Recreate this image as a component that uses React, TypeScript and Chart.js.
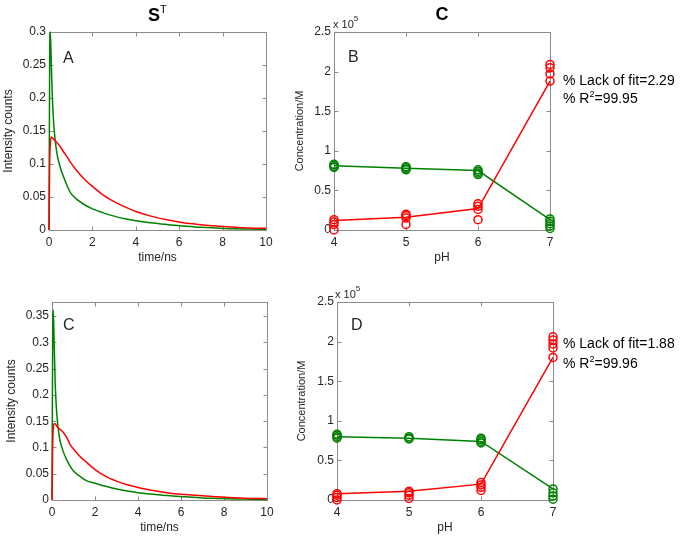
import React, { useEffect, useRef } from 'react';
import { Chart, registerables } from 'chart.js';

Chart.register(...registerables);

// ---------- data ----------
const timeNs = [0, 0.03, 0.06, 0.1, 0.15, 0.23, 0.35, 0.5, 0.7, 0.85, 1.0, 1.3, 1.6, 2.0, 2.5, 3.0, 3.5, 4.0, 4.7, 5.5, 6.2, 7.0, 7.7, 8.5, 9.3, 10];

const greenA = [0, 0.25, 0.3, 0.26, 0.205, 0.155, 0.119, 0.097, 0.078, 0.066, 0.056, 0.046, 0.039, 0.032, 0.026, 0.021, 0.017, 0.014, 0.011, 0.008, 0.006, 0.004, 0.003, 0.002, 0.0015, 0.001];
const redA = [0, 0.1, 0.13, 0.141, 0.14, 0.137, 0.133, 0.127, 0.117, 0.11, 0.102, 0.089, 0.078, 0.066, 0.053, 0.043, 0.035, 0.028, 0.021, 0.015, 0.011, 0.008, 0.006, 0.0045, 0.003, 0.0025];

const greenC = [0, 0.3, 0.362, 0.3, 0.22, 0.16, 0.118, 0.095, 0.075, 0.064, 0.055, 0.045, 0.037, 0.032, 0.026, 0.021, 0.017, 0.014, 0.011, 0.008, 0.006, 0.004, 0.003, 0.002, 0.0015, 0.001];
const redC = [0, 0.1, 0.135, 0.145, 0.145, 0.14, 0.135, 0.13, 0.118, 0.105, 0.097, 0.083, 0.072, 0.058, 0.045, 0.036, 0.029, 0.024, 0.018, 0.013, 0.0105, 0.008, 0.006, 0.0045, 0.003, 0.0025];

const pHValues = [4, 5, 6, 7];

const greenFitB = [0.81, 0.78, 0.75, 0.13];
const redFitB = [0.12, 0.16, 0.27, 1.88];
const greenRepB = [[0.79, 0.8, 0.82, 0.83], [0.76, 0.77, 0.79, 0.8], [0.7, 0.72, 0.74, 0.76], [0.02, 0.05, 0.08, 0.11, 0.14]];
const redRepB = [[0.0, 0.07, 0.1, 0.13], [0.07, 0.15, 0.18, 0.2], [0.13, 0.26, 0.3, 0.33], [1.88, 1.97, 2.05, 2.09]];

const greenFitD = [0.8, 0.78, 0.74, 0.14];
const redFitD = [0.08, 0.11, 0.2, 1.8];
const greenRepD = [[0.78, 0.8, 0.82, 0.83], [0.77, 0.78, 0.8], [0.72, 0.74, 0.76, 0.78], [0.01, 0.05, 0.09, 0.14]];
const redRepD = [[0.0, 0.03, 0.06, 0.08], [0.02, 0.06, 0.09, 0.11], [0.12, 0.16, 0.19, 0.22], [1.8, 1.92, 1.97, 2.02, 2.06]];

const fitB = ['% Lack of fit=2.29', '99.95'];
const fitD = ['% Lack of fit=1.88', '99.96'];

// ---------- styling ----------
const FONT = "'Liberation Sans', Arial, Helvetica, sans-serif";
const TEXT = '#262626';
const BOX = '#8c8c8c';
const GREEN = '#008000';
const RED = '#ff0000';

const fmt = (v: number) => String(Math.round(v * 1000) / 1000);

function drawRuns(ctx: CanvasRenderingContext2D, x: number, y: number, parts: [string, string, number][]) {
  let cx = x;
  for (const [t, f, dy] of parts) {
    ctx.font = f;
    ctx.fillText(t, cx, y + dy);
    cx += ctx.measureText(t).width;
  }
}

function makePlugin(drawText: (ctx: CanvasRenderingContext2D) => void) {
  return {
    id: 'matlabBox',
    beforeDatasetsDraw(chart: any) {
      const { ctx, chartArea: a, scales } = chart;
      ctx.save();
      ctx.strokeStyle = BOX;
      ctx.lineWidth = 1;
      const l = Math.round(a.left) + 0.5, r = Math.round(a.right) + 0.5;
      const t = Math.round(a.top) + 0.5, b = Math.round(a.bottom) + 0.5;
      ctx.strokeRect(l, t, r - l, b - t);
      const L = 4;
      ctx.beginPath();
      scales.x.ticks.forEach((tk: any) => {
        if (tk.label === null || tk.label === undefined || tk.label === '') return;
        const px = Math.round(scales.x.getPixelForValue(tk.value)) + 0.5;
        ctx.moveTo(px, b); ctx.lineTo(px, b - L);
        ctx.moveTo(px, t); ctx.lineTo(px, t + L);
      });
      scales.y.ticks.forEach((tk: any) => {
        if (tk.label === null || tk.label === undefined || tk.label === '') return;
        const py = Math.round(scales.y.getPixelForValue(tk.value)) + 0.5;
        ctx.moveTo(l, py); ctx.lineTo(l + L, py);
        ctx.moveTo(r, py); ctx.lineTo(r - L, py);
      });
      ctx.stroke();
      ctx.restore();
    },
    afterDraw(chart: any) {
      const ctx = chart.ctx;
      ctx.save();
      ctx.fillStyle = TEXT;
      ctx.textBaseline = 'alphabetic';
      ctx.textAlign = 'left';
      drawText(ctx);
      ctx.restore();
    },
  };
}

function makeScales(p: any) {
  return {
    x: {
      type: 'linear',
      min: p.xMin,
      max: p.xMax,
      grid: { display: false, drawTicks: false },
      border: { display: false },
      ticks: {
        stepSize: p.xStep,
        autoSkip: false,
        maxRotation: 0,
        padding: 5,
        color: TEXT,
        font: { family: FONT, size: 12 },
        callback: (v: number) => fmt(v),
      },
      title: { display: true, text: p.xTitle, color: TEXT, font: { family: FONT, size: 12 }, padding: { top: 0, bottom: p.xTitlePad } },
      afterFit: (s: any) => { s.height = p.xAxisH; },
    },
    y: {
      type: 'linear',
      min: 0,
      max: p.yMax,
      grid: { display: false, drawTicks: false },
      border: { display: false },
      ticks: {
        stepSize: p.yStep,
        includeBounds: false,
        autoSkip: false,
        padding: 3,
        color: TEXT,
        font: { family: FONT, size: 12 },
        callback: (v: number) => {
          const k = v / p.yStep;
          return Math.abs(k - Math.round(k)) < 1e-6 ? fmt(v) : null;
        },
      },
      title: { display: true, text: p.yTitle, color: TEXT, font: { family: FONT, size: p.yTitleSize }, padding: { top: p.yTitlePad, bottom: 0 } },
      afterFit: (s: any) => { s.width = p.yAxisW; },
    },
  };
}

function lineSet(xs: number[], ys: number[], color: string, smooth: boolean) {
  return {
    data: xs.map((x, i) => ({ x, y: ys[i] })),
    borderColor: color,
    backgroundColor: color,
    borderWidth: 1.5,
    pointRadius: 0,
    tension: 0,
    cubicInterpolationMode: smooth ? 'monotone' : 'default',
    clip: false,
  };
}

function markerSet(xs: number[], reps: number[][], color: string) {
  const pts: { x: number; y: number }[] = [];
  xs.forEach((x, i) => reps[i].forEach((y) => pts.push({ x, y })));
  return {
    data: pts,
    showLine: false,
    borderColor: color,
    backgroundColor: 'rgba(0,0,0,0)',
    borderWidth: 1.5,
    pointRadius: 4,
    pointStyle: 'circle',
    clip: false,
  };
}

function decayConfig(green: number[], red: number[], p: any, drawText: (ctx: CanvasRenderingContext2D) => void) {
  return {
    type: 'line',
    data: { datasets: [lineSet(timeNs, red, RED, true), lineSet(timeNs, green, GREEN, true)] },
    options: {
      responsive: false,
      animation: false,
      layout: { padding: { left: 0, right: p.padRight, top: 32, bottom: 0 } },
      plugins: { legend: { display: false }, tooltip: { enabled: false } },
      scales: makeScales({
        xMin: 0, xMax: 10, xStep: 2, yMax: p.yMax, yStep: 0.05,
        xTitle: 'time/ns', yTitle: 'Intensity counts', yTitleSize: 12,
        yAxisW: p.yAxisW, xAxisH: p.xAxisH, yTitlePad: p.yTitlePad, xTitlePad: p.xTitlePad,
      }),
    },
    plugins: [makePlugin(drawText)],
  };
}

function concConfig(gFit: number[], rFit: number[], gRep: number[][], rRep: number[][], p: any, drawText: (ctx: CanvasRenderingContext2D) => void) {
  return {
    type: 'line',
    data: {
      datasets: [
        markerSet(pHValues, rRep, RED),
        markerSet(pHValues, gRep, GREEN),
        lineSet(pHValues, rFit, RED, false),
        lineSet(pHValues, gFit, GREEN, false),
      ],
    },
    options: {
      responsive: false,
      animation: false,
      layout: { padding: { left: p.padLeft, right: p.padRight, top: 32, bottom: 0 } },
      plugins: { legend: { display: false }, tooltip: { enabled: false } },
      scales: makeScales({
        xMin: 4, xMax: 7, xStep: 1, yMax: 2.5, yStep: 0.5,
        xTitle: 'pH', yTitle: 'Concentration/M', yTitleSize: 11,
        yAxisW: p.yAxisW, xAxisH: p.xAxisH, yTitlePad: 3, xTitlePad: p.xTitlePad,
      }),
    },
    plugins: [makePlugin(drawText)],
  };
}

function Panel({ left, top, width, height, make }: any) {
  const ref = useRef<HTMLCanvasElement>(null);
  useEffect(() => {
    const chart = new Chart(ref.current as HTMLCanvasElement, make());
    return () => chart.destroy();
  }, []);
  return (
    <div style={{ position: 'absolute', left, top, width, height }}>
      <canvas ref={ref} width={width} height={height} style={{ display: 'block', width, height }} />
    </div>
  );
}

const scaleLabel = (ctx: CanvasRenderingContext2D, x: number) => {
  drawRuns(ctx, x, 28, [['x 10', `11px ${FONT}`, 0], ['5', `8px ${FONT}`, -7]]);
};

const fitText = (ctx: CanvasRenderingContext2D, lines: string[], y1: number, y2: number) => {
  ctx.fillStyle = '#000';
  drawRuns(ctx, 283, y1, [[lines[0], `14px ${FONT}`, 0]]);
  drawRuns(ctx, 283, y2, [['% R', `14px ${FONT}`, 0], ['2', `9px ${FONT}`, -6], ['=' + lines[1], `14px ${FONT}`, 0]]);
};

export default function App() {
  return (
    <div style={{ position: 'absolute', left: 0, top: 0, width: 686, height: 536, background: '#fff', overflow: 'hidden' }}>
      <Panel
        left={0} top={0} width={280} height={270}
        make={() => decayConfig(greenA, redA, { yMax: 0.3, yAxisW: 49, padRight: 14, xAxisH: 40, yTitlePad: 1, xTitlePad: 5 }, (ctx) => {
          ctx.fillStyle = '#000';
          drawRuns(ctx, 148, 21, [['S', `bold 18px ${FONT}`, 0], ['T', `11px ${FONT}`, -8]]);
          ctx.fillStyle = TEXT;
          drawRuns(ctx, 63, 63, [['A', `16px ${FONT}`, 0]]);
        })}
      />
      <Panel
        left={280} top={0} width={406} height={270}
        make={() => concConfig(greenFitB, redFitB, greenRepB, redRepB, { padLeft: 10, yAxisW: 44, padRight: 136, xAxisH: 40, xTitlePad: 5 }, (ctx) => {
          ctx.fillStyle = '#000';
          ctx.textAlign = 'center';
          ctx.font = `bold 18px ${FONT}`;
          ctx.fillText('C', 162, 20);
          ctx.textAlign = 'left';
          ctx.fillStyle = TEXT;
          scaleLabel(ctx, 53);
          drawRuns(ctx, 68, 62, [['B', `16px ${FONT}`, 0]]);
          fitText(ctx, fitB, 85, 103);
        })}
      />
      <Panel
        left={0} top={270} width={280} height={266}
        make={() => decayConfig(greenC, redC, { yMax: 0.377, yAxisW: 52, padRight: 13, xAxisH: 36, yTitlePad: 4, xTitlePad: 1 }, (ctx) => {
          drawRuns(ctx, 63, 60, [['C', `16px ${FONT}`, 0]]);
        })}
      />
      <Panel
        left={280} top={270} width={406} height={266}
        make={() => concConfig(greenFitD, redFitD, greenRepD, redRepD, { padLeft: 12, yAxisW: 45, padRight: 133, xAxisH: 36, xTitlePad: 1 }, (ctx) => {
          scaleLabel(ctx, 55);
          drawRuns(ctx, 71, 60, [['D', `16px ${FONT}`, 0]]);
          fitText(ctx, fitD, 78, 98);
        })}
      />
    </div>
  );
}
